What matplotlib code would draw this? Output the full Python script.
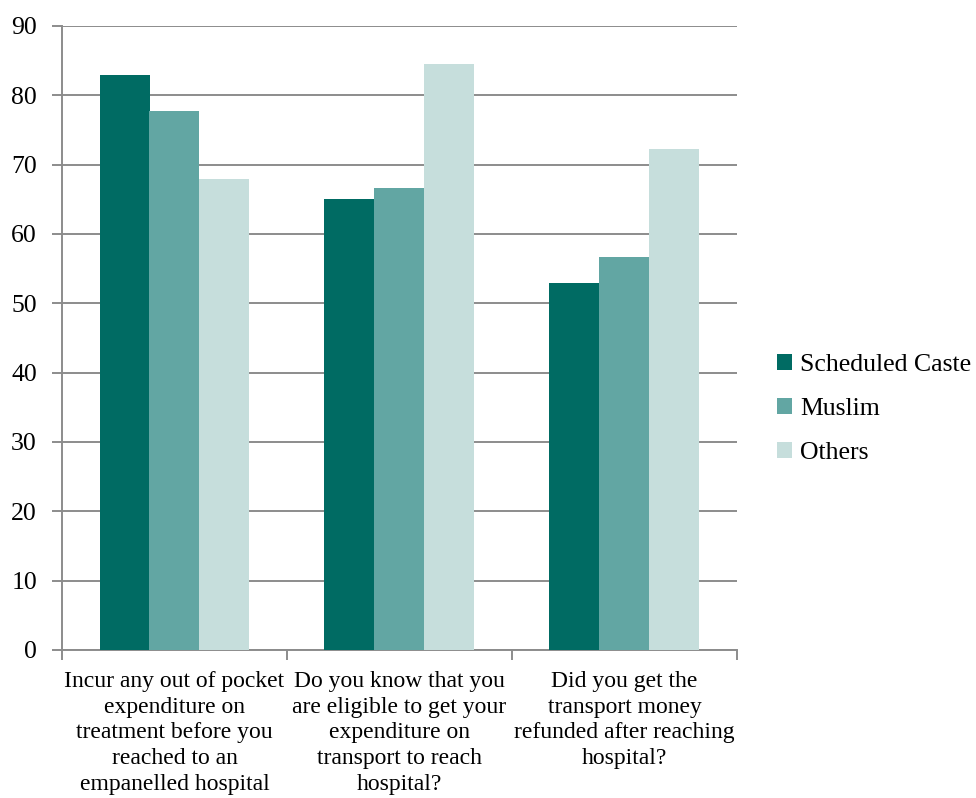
import matplotlib
matplotlib.use("Agg")
import matplotlib.pyplot as plt
import numpy as np

categories = [
    "Incur any out of pocket\nexpenditure on\ntreatment before you\nreached to an\nempanelled hospital",
    "Do you know that you\nare eligible to get your\nexpenditure on\ntransport to reach\nhospital?",
    "Did you get the\ntransport money\nrefunded after reaching\nhospital?",
]
series_names = ["Scheduled Caste", "Muslim", "Others"]
sc_vals = [83, 65, 53]
muslim_vals = [77.8, 66.6, 56.7]
others_vals = [68, 84.5, 72.2]
colors = ["#006B63", "#62A6A3", "#C6DEDC"]
yticks = [0, 10, 20, 30, 40, 50, 60, 70, 80, 90]

plt.rcParams['font.family'] = ['Liberation Serif', 'DejaVu Serif']

fig = plt.figure(figsize=(9.76, 7.98), dpi=100)
ax = fig.add_axes([62/976, 1-650/798, (737-62)/976, (650-26)/798])

x = np.arange(len(categories))
w = 50/225
for i, (vals, name) in enumerate(zip([sc_vals, muslim_vals, others_vals], series_names)):
    ax.bar(x + (i - 1) * w, vals, width=w, color=colors[i], label=name, zorder=3)

ax.set_xlim(-0.5, 2.5)
ax.set_ylim(0, 90)
ax.set_yticks(yticks)
ax.set_yticklabels([str(t) for t in yticks], fontsize=18.5)
ax.yaxis.grid(True, color="#8C8C8C", linewidth=1.4, zorder=0)
ax.set_axisbelow(True)

ax.set_xticks([-0.5, 0.5, 1.5, 2.5])
ax.set_xticklabels([])
ax.set_xticks(x, minor=True)
ax.set_xticklabels(categories, minor=True, fontsize=17, linespacing=1.3)
ax.tick_params(axis='x', which='minor', length=0, pad=15)
ax.tick_params(axis='x', which='major', length=7, color="#8C8C8C", width=1.4)
ax.tick_params(axis='y', length=7, color="#8C8C8C", width=1.4, pad=11)

for s in ['top', 'right']:
    ax.spines[s].set_visible(False)
for s in ['left', 'bottom']:
    ax.spines[s].set_color("#8C8C8C")
    ax.spines[s].set_linewidth(1.4)

leg = fig.legend(loc='center left', bbox_to_anchor=(777/976, 1-409/798), frameon=False,
                 fontsize=18.5, handlelength=0.6, handleheight=0.6, handletextpad=0.3,
                 labelspacing=0.85, borderpad=0, borderaxespad=0)

fig.savefig("out.png", dpi=100)
